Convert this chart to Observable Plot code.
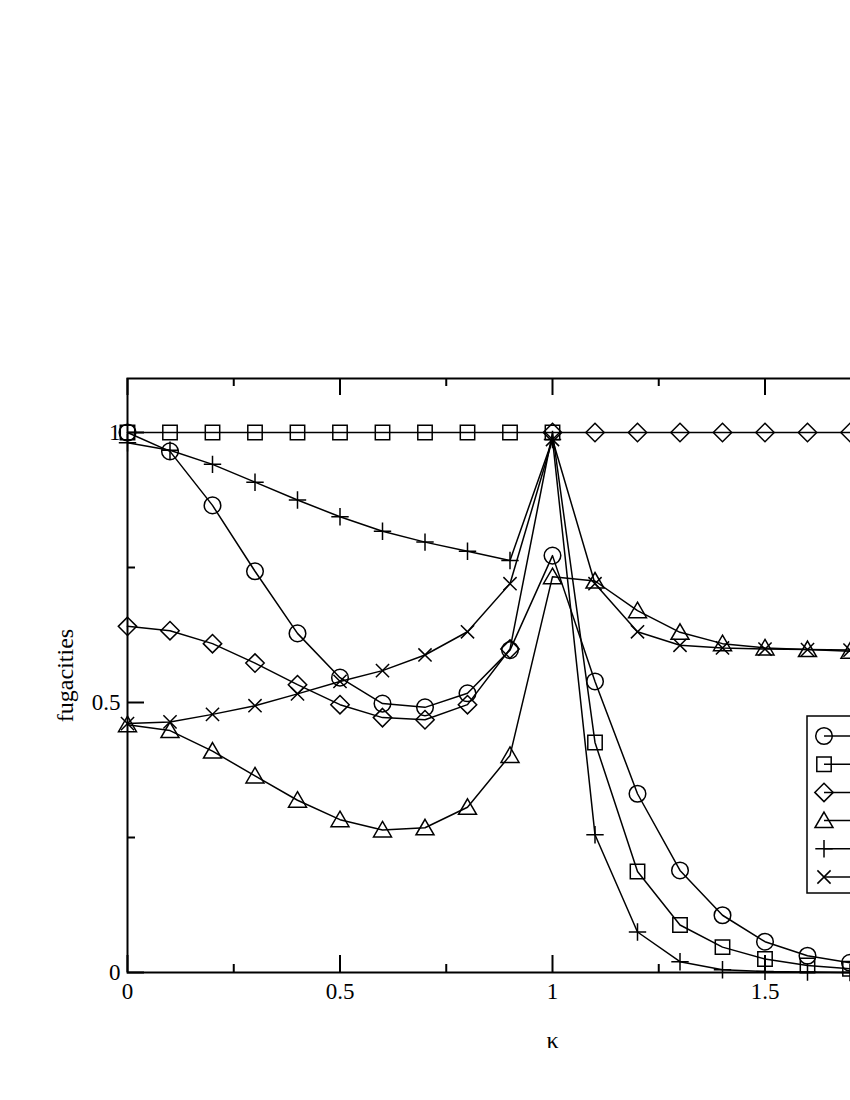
<!DOCTYPE html>
<html>
<head>
<meta charset="utf-8">
<script src="https://cdn.jsdelivr.net/npm/d3@7"></script>
<script src="https://cdn.jsdelivr.net/npm/@observablehq/plot@0.6"></script>
<style>
  html, body { margin: 0; padding: 0; background: #fff; overflow: hidden; }
  #chart { width: 850px; height: 1100px; overflow: hidden; }
</style>
</head>
<body>
<div id="chart"></div>
<script>
// ---- data ----
const kappa = [0, 0.1, 0.2, 0.3, 0.4, 0.5, 0.6, 0.7, 0.8, 0.9, 1.0, 1.1, 1.2, 1.3, 1.4, 1.5, 1.6, 1.7];

const seriesCircle   = [1.000, 0.965, 0.865, 0.743, 0.628, 0.546, 0.498, 0.491, 0.517, 0.597, 0.772, 0.539, 0.331, 0.189, 0.106, 0.057, 0.031, 0.018];
const seriesSquare   = [1.000, 1.000, 1.000, 1.000, 1.000, 1.000, 1.000, 1.000, 1.000, 1.000, 1.000, 0.426, 0.187, 0.088, 0.047, 0.025, 0.013, 0.007];
const seriesDiamond  = [0.641, 0.633, 0.609, 0.573, 0.533, 0.496, 0.472, 0.468, 0.496, 0.599, 1.000, 1.000, 1.000, 1.000, 1.000, 1.000, 1.000, 1.000];
const seriesTriangle = [0.459, 0.448, 0.410, 0.364, 0.319, 0.283, 0.264, 0.268, 0.306, 0.402, 0.733, 0.725, 0.670, 0.630, 0.609, 0.601, 0.598, 0.595];
const seriesPlus     = [0.981, 0.967, 0.941, 0.908, 0.875, 0.844, 0.817, 0.797, 0.780, 0.763, 0.987, 0.255, 0.075, 0.020, 0.005, 0.002, 0.001, 0.000];
const seriesTimes    = [0.461, 0.464, 0.478, 0.494, 0.516, 0.539, 0.559, 0.588, 0.631, 0.720, 0.987, 0.720, 0.631, 0.606, 0.601, 0.599, 0.598, 0.597];

const seriesNames = ["circle", "square", "diamond", "triangle", "plus", "times"];
const seriesValues = [seriesCircle, seriesSquare, seriesDiamond, seriesTriangle, seriesPlus, seriesTimes];

const xMajorTicks = [0, 0.5, 1, 1.5, 2];
const xMinorTicks = [0.25, 0.75, 1.25, 1.75];
const xLabelTicks = [0, 0.5, 1, 1.5];
const xTickLabels = ["0", "0.5", "1", "1.5"];
const yMajorTicks = [0, 0.5, 1];
const yMinorTicks = [0.25, 0.75];
const yTickLabels = ["0", "0.5", "1"];
const xLabel = "κ";
const yLabel = "fugacities";

// ---- layout ----
const WIDTH = 850, HEIGHT = 1100;
const ML = 127, MR = -127, MT = 378, MB = 128;
const PW = WIDTH - ML - MR;   // plot area width
const PH = HEIGHT - MT - MB;  // plot area height
const MAJOR = 17, MINOR = 8;
const FONT = "'Liberation Serif', 'Times New Roman', serif";

// ---- symbols (unfilled, xmgrace-like) ----
const symbols = {
  circle:   {draw(c) { const r = 8.3; c.moveTo(r, 0); c.arc(0, 0, r, 0, 2 * Math.PI); c.closePath(); }},
  square:   {draw(c) { const s = 7.2; c.moveTo(-s, -s); c.lineTo(s, -s); c.lineTo(s, s); c.lineTo(-s, s); c.closePath(); }},
  diamond:  {draw(c) { const s = 9.2; c.moveTo(0, -s); c.lineTo(s, 0); c.lineTo(0, s); c.lineTo(-s, 0); c.closePath(); }},
  triangle: {draw(c) { c.moveTo(0, -8.5); c.lineTo(9, 7); c.lineTo(-9, 7); c.closePath(); }},
  plus:     {draw(c) { const s = 8.7; c.moveTo(-s, 0); c.lineTo(s, 0); c.moveTo(0, -s); c.lineTo(0, s); }},
  times:    {draw(c) { const s = 6.6; c.moveTo(-s, -s); c.lineTo(s, s); c.moveTo(-s, s); c.lineTo(s, -s); }}
};

const table = [];
seriesNames.forEach((name, i) => {
  kappa.forEach((k, j) => table.push({series: name, k, v: seriesValues[i][j]}));
});

// legend (box + sample symbols with line stubs)
function legendMark() {
  const g = d3.create("svg:g");
  const bx = WIDTH - MR - 170, by = MT + 338, bh = 177;
  g.append("rect").attr("x", bx).attr("y", by).attr("width", 200).attr("height", bh)
    .attr("fill", "white").attr("stroke", "black").attr("stroke-width", 1.5);
  seriesNames.forEach((name, i) => {
    const cx = bx + 17, cy = by + 20 + i * 28.2;
    g.append("line").attr("x1", cx).attr("x2", cx + 60).attr("y1", cy).attr("y2", cy)
      .attr("stroke", "black").attr("stroke-width", 1.5);
    g.append("path").attr("d", d3.symbol(symbols[name], 64)())
      .attr("transform", `translate(${cx},${cy})`)
      .attr("fill", "none").attr("stroke", "black").attr("stroke-width", 1.5);
  });
  return g.node();
}

const marks = [
  Plot.frame({stroke: "black", strokeWidth: 2}),
  // inward ticks, bottom and top
  Plot.tickX(xMajorTicks, {x: d => d, insetTop: PH - MAJOR, stroke: "black", strokeWidth: 2}),
  Plot.tickX(xMinorTicks, {x: d => d, insetTop: PH - MINOR, stroke: "black", strokeWidth: 2}),
  Plot.tickX(xMajorTicks, {x: d => d, insetBottom: PH - MAJOR, stroke: "black", strokeWidth: 2}),
  Plot.tickX(xMinorTicks, {x: d => d, insetBottom: PH - MINOR, stroke: "black", strokeWidth: 2}),
  // inward ticks, left
  Plot.tickY(yMajorTicks, {y: d => d, insetRight: PW - MAJOR, stroke: "black", strokeWidth: 2}),
  Plot.tickY(yMinorTicks, {y: d => d, insetRight: PW - MINOR, stroke: "black", strokeWidth: 2}),
  // tick labels
  Plot.text(xLabelTicks, {x: d => d, text: (d, i) => xTickLabels[i], frameAnchor: "bottom",
    textAnchor: "middle", lineAnchor: "top", dy: 10, fontSize: 23, fill: "black"}),
  Plot.text(yMajorTicks, {y: d => d, text: (d, i) => yTickLabels[i], frameAnchor: "left",
    textAnchor: "end", lineAnchor: "middle", dx: -7, fontSize: 23, fill: "black"}),
  // series lines
  Plot.line(table, {x: "k", y: "v", z: "series", stroke: "black", strokeWidth: 1.5}),
  // series symbols
  ...seriesNames.map(name => Plot.dot(table.filter(d => d.series === name), {
    x: "k", y: "v", symbol: symbols[name], fill: "none", stroke: "black", strokeWidth: 1.5
  })),
  // axis titles
  Plot.text([xLabel], {text: d => d, frameAnchor: "bottom", textAnchor: "middle", lineAnchor: "middle",
    dy: 68, fontSize: 24, fill: "black"}),
  Plot.text([yLabel], {text: d => d, frameAnchor: "left", textAnchor: "middle", lineAnchor: "middle",
    rotate: -90, dx: -62, fontSize: 24, fill: "black"}),
  legendMark
];

const chart = Plot.plot({
  width: WIDTH,
  height: HEIGHT,
  marginLeft: ML,
  marginRight: MR,
  marginTop: MT,
  marginBottom: MB,
  style: {fontFamily: FONT, fontSize: "22px", background: "white", color: "black", overflow: "hidden"},
  x: {domain: [0, 2], axis: null},
  y: {domain: [0, 1.1], axis: null},
  marks
});

document.getElementById("chart").appendChild(chart);
</script>
</body>
</html>
